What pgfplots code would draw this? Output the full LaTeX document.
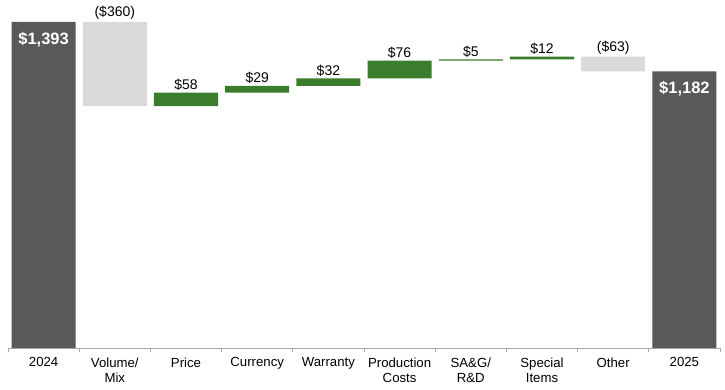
\documentclass[border=0pt]{standalone}
\usepackage{pgfplots}
\pgfplotsset{compat=1.18}
\usepackage{pgfplotstable}
\usepackage{fontspec}
\setmainfont{Liberation Sans}
\definecolor{darkbar}{HTML}{595959}
\definecolor{lightbar}{HTML}{D9D9D9}
\definecolor{greenbar}{HTML}{3A7D2C}
\definecolor{axisgray}{HTML}{A6A6A6}
\tikzset{vlab/.style={font=\fontsize{14}{16}\selectfont, anchor=south, inner sep=2pt},
         wlab/.style={anchor=north, text=white, font=\fontsize{16.5}{18}\selectfont\bfseries, inner sep=0pt, yshift=-10pt}}
\pgfplotstableread{
x base dark gray green
0 0 1393 0 0
1 1033 0 360 0
2 1033 0 0 58
3 1091 0 0 29
4 1120 0 0 32
5 1152 0 0 76
6 1228 0 0 5
7 1233 0 0 12
8 1182 0 63 0
9 0 1182 0 0
}\data
\begin{document}
\begin{tikzpicture}
\begin{axis}[
  scale only axis,
  width=712pt, height=348pt,
  xmin=-0.5, xmax=9.5, ymin=0, ymax=1487,
  ybar stacked, bar width=0.9,
  axis y line=none,
  axis x line*=bottom,
  axis line style={axisgray, line width=0.8pt},
  xtick={0,...,9},
  xticklabels={2024,{Volume/\\Mix},Price,Currency,Warranty,{Production\\Costs},{SA\&G/\\R\&D},{Special\\Items},Other,2025},
  xticklabel style={align=center, font=\fontsize{13.2}{15.8}\selectfont, text=black, yshift=-6pt},
  major tick length=0pt,
  minor xtick={-0.5,0.5,...,9.5},
  minor tick length=4pt,
  tick align=outside,
  tick style={axisgray, line width=0.8pt},
  clip=false,
]
\addplot[draw=none, fill=none] table[x=x, y=base] {\data};
\addplot[draw=none, fill=darkbar] table[x=x, y=dark] {\data};
\addplot[draw=none, fill=lightbar] table[x=x, y=gray] {\data};
\addplot[draw=none, fill=greenbar] table[x=x, y=green] {\data};
\coordinate (p1) at (axis cs:1,1393);
\coordinate (p2) at (axis cs:2,1091);
\coordinate (p3) at (axis cs:3,1120);
\coordinate (p4) at (axis cs:4,1152);
\coordinate (p5) at (axis cs:5,1228);
\coordinate (p6) at (axis cs:6,1233);
\coordinate (p7) at (axis cs:7,1245);
\coordinate (p8) at (axis cs:8,1245);
\coordinate (p0) at (axis cs:0,1393);
\coordinate (p9) at (axis cs:9,1182);
\coordinate (a) at (axis cs:-0.5,0);
\coordinate (b) at (axis cs:9.5,1487);
\end{axis}
\node[vlab] at (p1) {(\$360)};
\node[vlab] at (p2) {\$58};
\node[vlab] at (p3) {\$29};
\node[vlab] at (p4) {\$32};
\node[vlab] at (p5) {\$76};
\node[vlab] at (p6) {\$5};
\node[vlab] at (p7) {\$12};
\node[vlab] at (p8) {(\$63)};
\node[wlab] at (p0) {\$1,393};
\node[wlab] at (p9) {\$1,182};
\path[use as bounding box] (a) ++(-8pt,-42pt) rectangle ([xshift=5pt]b);
\end{tikzpicture}
\end{document}
